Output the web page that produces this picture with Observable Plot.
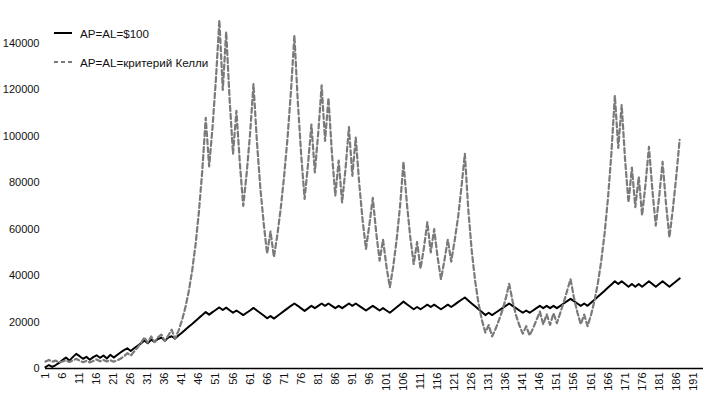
<!DOCTYPE html>
<html><head><meta charset="utf-8">
<script src="https://cdn.jsdelivr.net/npm/d3@7"></script>
<script src="https://cdn.jsdelivr.net/npm/@observablehq/plot@0.6"></script>
<style>
html,body{margin:0;padding:0;background:#fff;}
#chart{position:relative;width:715px;height:406px;font-family:"Liberation Sans",Arial,sans-serif;}
.legend{position:absolute;left:54px;height:14px;font-size:11.6px;color:#111;display:flex;align-items:center;white-space:nowrap;}
.legend svg{margin-right:8px;}
</style></head><body><div id="chart"></div>
<script>
const seriesNames = ["AP=AL=$100", "AP=AL=критерий Келли"];
const fixedBet = [
600,1500,700,
1500,2400,3600,4700,3400,4900,6300,5300,4200,5000,3800,4900,5700,4600,5600,4300,5900,4700,5800,6900,
7900,8700,7500,8700,9800,10800,12100,10900,12400,11500,12700,13300,11900,13300,13900,12900,
14200,15400,16700,18000,19200,20500,21800,23000,24300,
23200,24300,25300,26300,25200,26200,25100,24000,25000,24000,23000,24000,25000,26100,
25000,23900,22800,21600,22600,21500,22600,23700,24800,25900,27000,28000,27000,25900,24800,25900,27000,26000,27000,28000,
27000,28000,27000,26000,27000,26000,27000,28000,27000,28000,27000,26000,25000,26000,27000,26000,25000,26000,25000,24000,
25200,26400,27600,28800,27700,26600,25500,26500,25500,26500,27500,26500,27500,26500,25500,26500,27500,26500,27500,28600,
29600,30600,
29300,28000,26800,25500,24300,23000,
24000,23000,24000,25000,26000,27000,28000,27000,26000,25000,24000,
25000,24000,25000,26000,27000,26000,27000,26000,27000,26000,
27000,28000,29000,30000,29000,28000,27000,28000,27000,
28300,29600,30900,32200,33500,34900,36200,37600,
36400,37600,36400,35200,36400,35200,36400,35200,36400,37600,36400,35200,36400,37600,36400,35200,36400,37600,38800
];
const kelly = [
3000,3700,2900,
3400,2600,3000,3600,2800,3400,4200,3400,2700,3300,2600,3200,3900,3100,3700,3000,3600,2900,3500,4200,
5200,6600,5600,7300,9000,11000,13400,11200,13800,11400,13500,14600,11800,14200,16700,12800,
16200,20600,26100,33100,42000,53200,67500,85500,108000,
87000,104000,125000,150000,120000,145000,116000,92500,111000,88500,70000,84000,101000,122500,
98000,78000,62500,49500,59000,48000,57500,69000,83000,99500,119500,143500,115000,92000,73000,88000,105000,84500,101500,122000,
98000,116500,93000,74500,89500,71500,86000,104000,83000,99500,80000,64000,51500,62000,73500,58500,46500,55500,44000,35000,
44000,55500,70000,89000,71000,56500,45000,54500,43000,52000,63000,50000,60000,48000,38500,46500,55500,46000,55000,65000,
78000,92500,
68700,51000,37900,28100,20900,15500,
18700,13800,17000,20800,25000,30200,36500,29000,23000,18500,15000,
18200,14200,17300,20800,24500,19000,23300,18800,23800,19500,
24000,28500,33500,38500,30500,24200,19000,23200,18200,
23000,29000,36600,46200,58300,73600,93000,117500,
95000,113500,90000,71500,86500,69500,82500,66000,79500,95500,77000,61500,74000,89000,71000,56500,68500,82500,98500
];
const xTickLabels = [1,6,11,16,21,26,31,36,41,46,51,56,61,66,71,76,81,86,91,96,101,106,111,116,121,126,131,136,141,146,151,156,161,166,171,176,181,186,191];
const yTickLabels = [0,20000,40000,60000,80000,100000,120000,140000];
const lastCategory = 194;

const periods = d3.range(1, fixedBet.length + 1);
const rows = periods.map((p, i) => ({p, fixed: fixedBet[i], kelly: kelly[i]}));

const plot = Plot.plot({
  width: 715, height: 406,
  marginLeft: 45, marginRight: 12, marginTop: 0, marginBottom: 38,
  style: {fontFamily: '"Liberation Sans", Arial, sans-serif', fontSize: "11px", color: "#111", background: "#fff"},
  x: {type: "linear", domain: [1, lastCategory]},
  y: {domain: [0, 158500]},
  marks: [
    Plot.axisY({ticks: yTickLabels, tickFormat: d3.format("d"), tickSize: 0, tickPadding: 6, label: null, fontSize: "11px"}),
    Plot.axisX({ticks: xTickLabels, tickFormat: d => String(d), tickRotate: -90, tickSize: 0, tickPadding: 4, label: null, fontSize: "11px"}),
    Plot.ruleY([0], {stroke: "#000", strokeWidth: 1.3}),
    Plot.line(rows, {x: "p", y: "fixed", stroke: "#000", strokeWidth: 2}),
    Plot.line(rows, {x: "p", y: "kelly", stroke: "#7a7a7a", strokeWidth: 2.2, strokeDasharray: "5,3"})
  ]
});
const chart = document.getElementById("chart");
chart.appendChild(plot);

function legendItem(name, top, dashed) {
  const div = document.createElement("div");
  div.className = "legend";
  div.style.top = top + "px";
  div.innerHTML = `<svg width="18" height="6"><line x1="0" y1="3" x2="18" y2="3" stroke="${dashed ? "#7a7a7a" : "#000"}" stroke-width="2" ${dashed ? 'stroke-dasharray="4,3"' : ""}/></svg><span>${name}</span>`;
  chart.appendChild(div);
}
legendItem(seriesNames[0], 26, false);
legendItem(seriesNames[1], 55, true);
</script></body></html>
